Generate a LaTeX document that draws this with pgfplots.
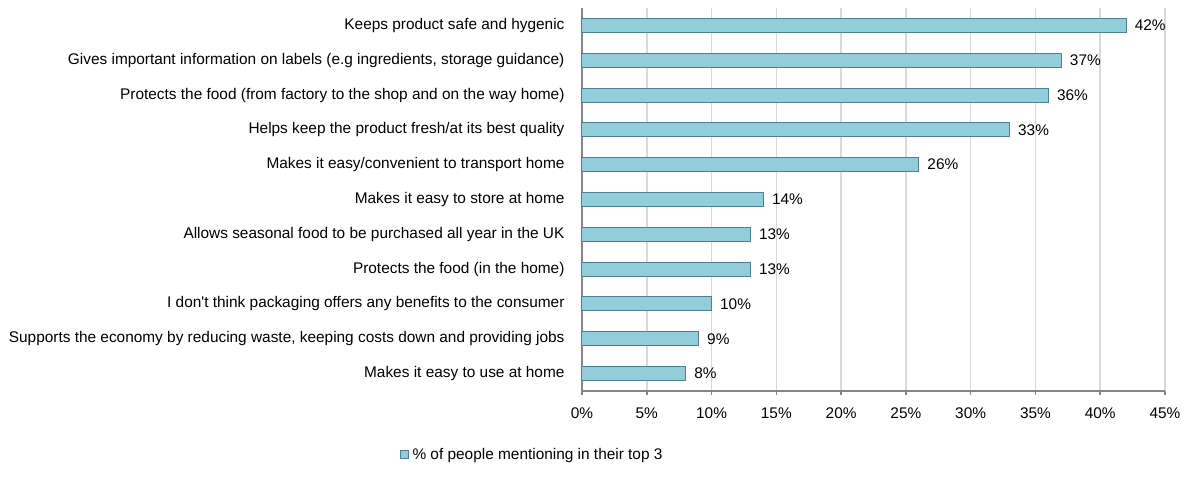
\documentclass[border=0pt]{standalone}
\usepackage{fontspec}
\setmainfont{Liberation Sans}
\usepackage{pgfplots}
\pgfplotsset{compat=1.18}
\definecolor{barfill}{RGB}{146,205,220}
\definecolor{baredge}{RGB}{80,128,142}
\definecolor{gridgray}{RGB}{217,217,217}
\definecolor{axisgray}{RGB}{134,134,134}
\newcommand{\chartfont}{\fontsize{7.7pt}{9.2pt}\selectfont}
\begin{document}
\chartfont
\begin{tikzpicture}
\begin{axis}[
    at={(0,0)}, anchor=south west,
    scale only axis,
    width=291.5pt, height=191.5pt,
    xbar, bar width=7pt,
    xmin=0, xmax=45,
    ymin=-0.5, ymax=10.5,
    axis x line*=bottom, axis y line*=left,
    axis line style={axisgray, line width=1pt},
    xtick={0,5,...,45},
    xticklabel={\pgfmathprintnumber{\tick}\%},
    /pgf/number format/assume math mode=true,
    xmajorgrids, major grid style={gridgray, line width=0.8pt},
    major tick length=2pt,
    tick style={axisgray, line width=0.8pt},
    xtick align=outside,
    xticklabel style={yshift=-3.5pt, font=\chartfont},
    ytick={0,...,10},
    yticklabels={
        Makes it easy to use at home,
        {Supports the economy by reducing waste, keeping costs down and providing jobs},
        I don\textquotesingle t think packaging offers any benefits to the consumer,
        Protects the food (in the home),
        Allows seasonal food to be purchased all year in the UK,
        Makes it easy to store at home,
        Makes it easy/convenient to transport home,
        Helps keep the product fresh/at its best quality,
        Protects the food (from factory to the shop and on the way home),
        {Gives important information on labels (e.g ingredients, storage guidance)},
        Keeps product safe and hygenic},
    ytick style={draw=none},
    minor ytick={-0.5,0.5,...,10.5},
    minor tick length=2pt,
    minor tick style={axisgray, line width=0.8pt},
    ytick align=outside,
    yticklabel style={xshift=-4pt, font=\chartfont},
    nodes near coords={\pgfmathprintnumber{\pgfplotspointmeta}\%},
    nodes near coords style={font=\chartfont, anchor=west, xshift=1.5pt},
    point meta=x,
    legend style={at={(-0.084,-0.167)}, anchor=center, draw=none, fill=none,
        font=\chartfont, inner sep=0pt},
    legend image code/.code={\draw[#1, line width=0.5pt] (0pt,-2pt) rectangle (4pt,2pt);},
    clip=false,
]
\addplot[fill=barfill, draw=baredge, line width=0.5pt] coordinates {
    (8,0) (9,1) (10,2) (13,3) (13,4) (14,5) (26,6) (33,7) (36,8) (37,9) (42,10)
};
\addlegendentry{\% of people mentioning in their top 3}
\end{axis}
\pgfresetboundingbox
\path[use as bounding box] (-291pt,-51pt) rectangle (303.5pt,195.5pt);
\end{tikzpicture}
\end{document}
